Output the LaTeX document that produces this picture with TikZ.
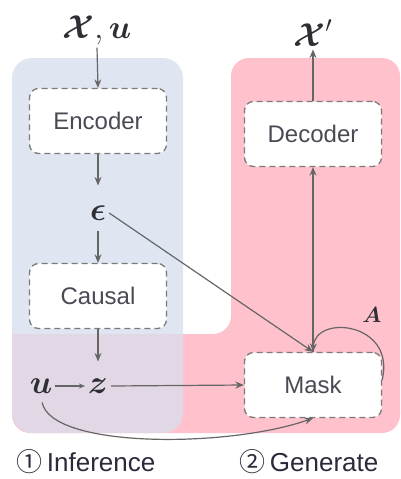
\RequirePackage{fix-cm}
\documentclass[tikz,border=0pt]{standalone}
\usepackage{amsmath}
\usepackage{bm}
\usepackage{fontspec}
\setmainfont{Liberation Sans}
\newfontfamily\cjk{Noto Sans CJK SC}
\usetikzlibrary{arrows.meta}
\definecolor{bluebg}{HTML}{DFE6F2}
\definecolor{pinkbg}{HTML}{FFC1CC}
\definecolor{mixbg}{HTML}{E2D8E5}
\definecolor{dashgray}{HTML}{7A7A7A}
\definecolor{arrgray}{HTML}{666666}
\definecolor{boxtext}{HTML}{4A4A55}
\definecolor{mathcol}{HTML}{2E2E35}
\definecolor{lbltext}{HTML}{2A2A3A}
\tikzset{
  box/.style={draw=dashgray, dash pattern=on 6pt off 4pt, line width=1.3pt,
    rounded corners=9pt, fill=white, minimum width=137pt, minimum height=65pt,
    text=boxtext, font=\fontsize{24}{28}\selectfont},
  arr/.style={draw=arrgray, line width=1.2pt, -{Stealth[length=8.5pt,width=7pt]}},
  mathlbl/.style={text=mathcol, font=\fontsize{33}{36}\selectfont, inner sep=3pt},
  caplbl/.style={text=lbltext, font=\fontsize{26}{30}\selectfont, inner sep=0.5pt},
}
\begin{document}
\begin{tikzpicture}[x=1pt,y=-1pt]
\useasboundingbox (0,0) rectangle (400,479);
% background regions
\fill[bluebg, rounded corners=20pt] (12,58) rectangle (183,433);
\fill[pinkbg, rounded corners=18pt] (12,334) -- (231,334) -- (231,58) -- (400,58)
   -- (400,433) -- (12,433) -- cycle;
\begin{scope}
  \clip[rounded corners=20pt] (12,58) rectangle (183,433);
  \fill[mixbg] (12,334) rectangle (183,433);
\end{scope}

% nodes
\node[mathlbl] (xu) at (97,30) {$\bm{\mathcal{X}},\bm{u}$};
\node[box] (enc) at (98,121) {Encoder};
\node[mathlbl] (eps) at (98,213) {$\bm{\epsilon}$};
\node[box] (cau) at (98,296) {Causal};
\node[mathlbl] (u) at (41,386) {$\bm{u}$};
\node[mathlbl] (z) at (98,386) {$\bm{z}$};
\node[box] (mask) at (313,385) {Mask};
\node[box] (dec) at (313,134) {Decoder};
\node[mathlbl] (xp) at (313,33) {$\bm{\mathcal{X}}'$};
\node[mathlbl, font=\fontsize{22}{24}\selectfont] (A) at (372,315) {$\bm{A}$};

\node[caplbl] (inf) at (86,462) {{\cjk ①}\,Inference};
\node[caplbl] (gen) at (309,462) {{\cjk ②}\,Generate};

% connectors
\draw[arr] (xu.south) -- (enc.north);
\draw[arr, shorten >=17pt] (enc.south) -- (eps.north);
\draw[arr, shorten <=7pt] (eps.south) -- (cau.north);
\draw[arr, shorten >=14pt] (cau.south) -- (z.north);
\draw[arr, -{Stealth[length=6pt,width=5pt]}] (u.east) -- (z.west);
\draw[arr] (z.east) -- (mask.west);
\draw[arr] (eps.east) -- (mask.north);
\draw[arr] (mask.north) -- (dec.south);
\draw[arr] (dec.north) -- (xp.south);
\draw[arr] ([yshift=5pt]mask.east) .. controls +(14,-58) and +(2,-38) .. (mask.north);
\draw[arr, shorten <=6pt] (u.south) .. controls +(10,52) and +(-85,30) .. (mask.south);
\end{tikzpicture}
\end{document}
